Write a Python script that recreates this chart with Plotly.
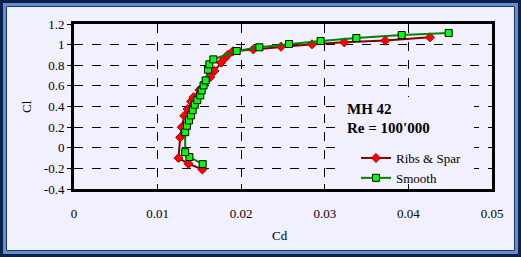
import plotly.graph_objects as go

# ---- data ----
ribs_cd = [0.01535, 0.0137, 0.0125, 0.0127, 0.0129, 0.0132, 0.0136, 0.0140, 0.0143, 0.0150,
           0.0163, 0.0168, 0.0176, 0.0180, 0.0184, 0.0190, 0.02145, 0.02476, 0.02847, 0.03233,
           0.03724, 0.04258]
ribs_cl = [-0.21, -0.155, -0.10, 0.10, 0.20, 0.31, 0.375, 0.45, 0.49, 0.56,
           0.685, 0.745, 0.825, 0.865, 0.90, 0.935, 0.954, 0.98, 1.003, 1.022,
           1.039, 1.071]
smooth_cd = [0.01539, 0.0138, 0.0133, 0.0133, 0.01352, 0.01376, 0.0140, 0.0142, 0.01444, 0.01475,
             0.0151, 0.01527, 0.0155, 0.01575, 0.01603, 0.01619, 0.01667, 0.01946, 0.02217, 0.02572,
             0.0295, 0.03377, 0.0392, 0.04482]
smooth_cl = [-0.159, -0.09, -0.043, 0.151, 0.213, 0.265, 0.314, 0.365, 0.417, 0.462,
             0.508, 0.556, 0.605, 0.653, 0.757, 0.809, 0.857, 0.938, 0.974, 1.006,
             1.035, 1.064, 1.093, 1.113]
x_ticks = [0, 0.01, 0.02, 0.03, 0.04, 0.05]
x_labels = ["0", "0.01", "0.02", "0.03", "0.04", "0.05"]
y_ticks = [-0.4, -0.2, 0, 0.2, 0.4, 0.6, 0.8, 1.0, 1.2]
y_labels = ["-0.4", "-0.2", "0", "0.2", "0.4", "0.6", "0.8", "1", "1.2"]

W, H = 521, 257
ML, MR, MT, MB = 74, 29, 24, 68
PW, PH = W - ML - MR, H - MT - MB
BG = "#f0f0ff"
FONT = "Liberation Serif"
XMIN, XMAX, YMIN, YMAX = 0, 0.05, -0.4, 1.2


def px(x):
    return (x - ML) / PW


def py(y):
    return (H - MB - y) / PH


def dx(x):
    return XMIN + px(x) * (XMAX - XMIN)


def dy(y):
    return YMIN + py(y) * (YMAX - YMIN)


fig = go.Figure()
fig.add_trace(go.Scatter(
    x=ribs_cd, y=ribs_cl, name="Ribs & Spar", mode="lines+markers",
    line=dict(color="#800000", width=2),
    marker=dict(symbol="diamond", size=7, color="#ff0000", line=dict(color="#b00000", width=1)),
))
fig.add_trace(go.Scatter(
    x=smooth_cd, y=smooth_cl, name="Smooth", mode="lines+markers",
    line=dict(color="#008000", width=2),
    marker=dict(symbol="square", size=7, color="#00ff00", line=dict(color="#000000", width=1)),
))

shapes = []
# box behind the annotation / legend (hides grid lines)
shapes.append(dict(type="rect", xref="x", yref="y", layer="between",
                   x0=dx(338), x1=dx(474), y0=dy(187), y1=dy(97),
                   fillcolor=BG, line=dict(width=0)))
# window frame
shapes.append(dict(type="rect", xref="paper", yref="paper", layer="above",
                   x0=px(1.5), x1=px(W - 1.5), y0=py(H - 1.5), y1=py(1.5),
                   line=dict(color="#0a1f4a", width=3)))
shapes.append(dict(type="rect", xref="paper", yref="paper", layer="above",
                   x0=px(4.5), x1=px(W - 4.5), y0=py(H - 4.5), y1=py(4.5),
                   line=dict(color="#5f8fd0", width=3)))
shapes.append(dict(type="rect", xref="paper", yref="paper", layer="above",
                   x0=px(6.5), x1=px(W - 6.5), y0=py(H - 6.5), y1=py(6.5),
                   line=dict(color="#1c3466", width=1)))

fig.update_layout(
    width=W, height=H,
    margin=dict(l=ML, r=MR, t=MT, b=MB, pad=0),
    paper_bgcolor=BG, plot_bgcolor=BG,
    font=dict(family=FONT, size=13, color="black"),
    showlegend=True,
    legend=dict(x=px(356), y=py(143), xanchor="left", yanchor="top",
                bgcolor="rgba(0,0,0,0)", borderwidth=0,
                font=dict(family=FONT, size=13), tracegroupgap=0, itemwidth=30),
    shapes=shapes,
    annotations=[
        dict(text="<b>MH 42</b>", xref="paper", yref="paper", x=px(345), y=py(109),
             xanchor="left", yanchor="middle", showarrow=False,
             font=dict(family=FONT, size=15, color="black")),
        dict(text="<b>Re = 100'000</b>", xref="paper", yref="paper", x=px(345), y=py(128),
             xanchor="left", yanchor="middle", showarrow=False,
             font=dict(family=FONT, size=15, color="black")),
        dict(text="Cd", xref="paper", yref="paper", x=px(280), y=py(235),
             xanchor="center", yanchor="middle", showarrow=False,
             font=dict(family=FONT, size=13, color="black")),
        dict(text="Cl", xref="paper", yref="paper", x=px(26), y=py(107),
             xanchor="center", yanchor="middle", showarrow=False, textangle=-90,
             font=dict(family=FONT, size=13, color="black")),
    ],
)
fig.update_xaxes(range=[XMIN, XMAX], tickvals=x_ticks, ticktext=x_labels,
                 showgrid=True, gridcolor="black", griddash="dash", gridwidth=1,
                 zeroline=False, showline=True, linecolor="black", linewidth=3, mirror=True,
                 ticks="inside", ticklen=5, tickcolor="black", tickwidth=1,
                 ticklabelstandoff=10, tickfont=dict(family=FONT, size=13))
fig.update_yaxes(range=[YMIN, YMAX], tickvals=y_ticks, ticktext=y_labels,
                 showgrid=True, gridcolor="black", griddash="dash", gridwidth=1,
                 zeroline=False, showline=True, linecolor="black", linewidth=3, mirror=True,
                 ticks="outside", ticklen=4, tickcolor="black", tickwidth=1,
                 tickfont=dict(family=FONT, size=13))

fig.write_html("out.html", config={"displayModeBar": False},
               post_script="document.body.style.margin='0';document.body.style.padding='0';")
